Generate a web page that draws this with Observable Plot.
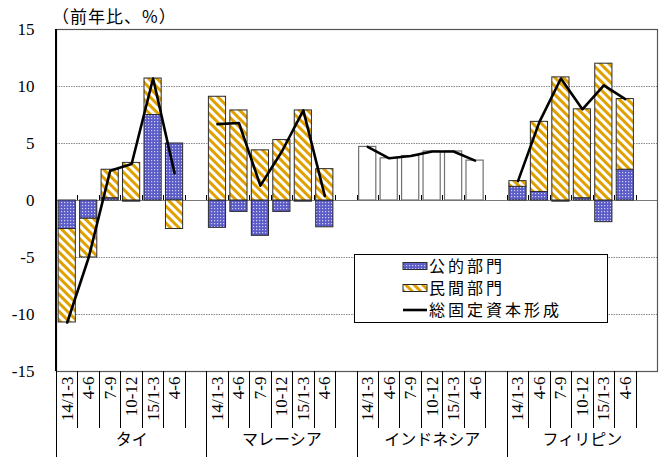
<!DOCTYPE html>
<html><head><meta charset="utf-8">
<script src="https://cdn.jsdelivr.net/npm/d3@7"></script>
<script src="https://cdn.jsdelivr.net/npm/@observablehq/plot@0.6"></script>
<style>
body{margin:0;background:#fff}
#chart{position:relative;width:672px;height:457px}
</style>
</head><body><div id="chart"></div>
<script>
const countries = ["タイ", "マレーシア", "インドネシア", "フィリピン"];
const quarters = ["14/1-3", "4-6", "7-9", "10-12", "15/1-3", "4-6"];
const parts = ["公的部門", "民間部門"];
const totalLabel = "総固定資本形成";
const yTicks = [-15, -10, -5, 0, 5, 10, 15];

// values, % y/y (null = breakdown not shown)
const thaiPublic = [-2.5, -1.6, 0.2, -0.1, 7.5, 5.0];
const thaiPrivate = [-8.2, -3.4, 2.5, 3.3, 3.2, -2.5];
const thaiTotal = [-10.7, -5.0, 2.6, 3.2, 10.7, 2.4];

const malaysiaPublic = [-2.4, -1.0, -3.1, -1.0, -0.1, -2.35];
const malaysiaPrivate = [9.1, 7.9, 4.4, 5.3, 7.9, 2.75];
const malaysiaTotal = [6.7, 6.8, 1.3, 4.3, 7.9, 0.4];

const indonesiaPublic = [null, null, null, null, null, null];
const indonesiaPrivate = [null, null, null, null, null, null];
const indonesiaTotal = [4.7, 3.7, 3.9, 4.3, 4.3, 3.5];

const philippinesPublic = [1.2, 0.75, -0.1, 0.2, -1.9, 2.7];
const philippinesPrivate = [0.5, 6.15, 10.8, 7.8, 12.0, 6.2];
const philippinesTotal = [1.7, 6.9, 10.7, 8.0, 10.1, 8.9];

const publicVals = [thaiPublic, malaysiaPublic, indonesiaPublic, philippinesPublic];
const privateVals = [thaiPrivate, malaysiaPrivate, indonesiaPrivate, philippinesPrivate];
const totalVals = [thaiTotal, malaysiaTotal, indonesiaTotal, philippinesTotal];

// slots: 6 quarters + 1 blank per country
const slotKeys = countries.flatMap(c => [...quarters.map((q, i) => `${c}|${i}`), `${c}|_`]);
const groupKeys = countries.map(c => `${c}|3`);

const partRows = [];
const whiteRows = [];
const totalRows = [];
countries.forEach((c, ci) => {
  quarters.forEach((q, i) => {
    const key = `${c}|${i}`;
    const pu = publicVals[ci][i], pr = privateVals[ci][i], t = totalVals[ci][i];
    if (pu == null) {
      whiteRows.push({key, total: t});
    } else {
      partRows.push({key, part: parts[0], value: pu});
      partRows.push({key, part: parts[1], value: pr});
    }
    totalRows.push({key, country: c, total: t});
  });
});

const serif = "Liberation Serif, Times New Roman, serif";
const jp = "Noto Sans CJK JP, sans-serif";

const plot = Plot.plot({
  width: 672, height: 457,
  marginLeft: 56, marginRight: 15, marginTop: 29, marginBottom: 86,
  style: {background: "white", color: "black", overflow: "visible"},
  x: {type: "band", domain: slotKeys, paddingInner: 0.2, paddingOuter: 0.1, round: false, axis: null},
  y: {domain: [-15, 15], axis: null},
  color: {domain: parts, range: ["url(#pubPat)", "url(#privPat)"]},
  marks: [
    Plot.ruleY([-10, -5, 5, 10], {stroke: "#8a8a8a", strokeWidth: 1, strokeDasharray: "1.5,1"}),
    Plot.ruleY([0], {stroke: "#7a7a7a", strokeWidth: 1.2}),
    Plot.barY(partRows, {x: "key", y: "value", z: "part", fill: "part", stroke: "#2a2a2a", strokeWidth: 1}),
    Plot.barY(whiteRows, {x: "key", y: "total", fill: "white", stroke: "#707070", strokeWidth: 1.2}),
    Plot.line(totalRows, {x: "key", y: "total", z: "country", stroke: "black", strokeWidth: 2.6}),
    Plot.frame({stroke: "#555", strokeWidth: 1.2}),
    Plot.axisY({ticks: yTicks, tickSize: 0, tickPadding: 22, tickFormat: d => `${d}`, label: null,
      fontSize: 17, fontFamily: serif, ariaLabel: "yticks"}),
    Plot.axisX({tickRotate: -90, tickSize: 0, tickPadding: 5, label: null, fontSize: 17, fontFamily: serif,
      ariaLabel: "xticks",
      tickFormat: k => { const i = k.split("|")[1]; return i === "_" ? "" : quarters[+i]; }}),
    Plot.axisX({ticks: groupKeys, tickSize: 0, tickPadding: 62, label: null, fontSize: 16, fontFamily: jp,
      ariaLabel: "groups", tickFormat: k => k.split("|")[0]})
  ]
});

const svg = d3.select(plot);
svg.selectAll("[aria-label='yticks'] text, [aria-label='xticks'] text")
  .attr("font-family", serif).attr("font-size", 17);
svg.selectAll("[aria-label='groups'] text").attr("font-family", jp).attr("font-size", 16);

const defs = svg.insert("defs", ":first-child");
const pub = defs.append("pattern").attr("id", "pubPat").attr("patternUnits", "userSpaceOnUse").attr("width", 3).attr("height", 3);
pub.append("rect").attr("width", 3).attr("height", 3).attr("fill", "#5c5cc8");
pub.append("rect").attr("x", 1).attr("y", 1).attr("width", 1.2).attr("height", 1.2).attr("fill", "#d0d0f4");
const priv = defs.append("pattern").attr("id", "privPat").attr("patternUnits", "userSpaceOnUse")
  .attr("width", 6).attr("height", 6).attr("patternTransform", "rotate(-45)");
priv.append("rect").attr("width", 6).attr("height", 6).attr("fill", "white");
priv.append("rect").attr("width", 3).attr("height", 6).attr("fill", "#e0a000");

const xs = plot.scale("x"), ys = plot.scale("y");
const r0 = Math.min(...xs.range);
const bx = i => r0 + i * xs.step;
const yBottom = ys.apply(-15), y0 = ys.apply(0), yTop = ys.apply(15);
const g = svg.append("g").attr("stroke", "black").attr("stroke-width", 1);
for (let i = 0; i < slotKeys.length; i++) {
  const x = Math.round(bx(i)) + 0.5;
  const y2 = (i % 7 === 0) ? 457 : yBottom + 57;
  g.append("line").attr("x1", x).attr("x2", x).attr("y1", yBottom).attr("y2", y2);
  if (i > 0) g.append("line").attr("x1", x).attr("x2", x).attr("y1", y0 - 5).attr("y2", y0);
}
// left axis line
const xl = bx(0);
svg.append("line").attr("x1", xl).attr("x2", xl).attr("y1", yTop).attr("y2", yBottom)
  .attr("stroke", "black").attr("stroke-width", 2);

// unit label
svg.append("text").attr("x", 52).attr("y", 17).attr("dy", "0.36em").attr("text-anchor", "start")
  .attr("font-family", jp).attr("font-size", 17).attr("letter-spacing", "1px").text("（前年比、%）");

// legend
const lg = svg.append("g");
lg.append("rect").attr("x", 354.5).attr("y", 254.5).attr("width", 253).attr("height", 68).attr("fill", "white").attr("stroke", "black");
const items = [
  {label: parts[0], kind: "pub"},
  {label: parts[1], kind: "priv"},
  {label: totalLabel, kind: "line"}
];
items.forEach((it, k) => {
  const cy = 266 + k * 22;
  if (it.kind === "line") {
    lg.append("line").attr("x1", 403).attr("x2", 427).attr("y1", cy).attr("y2", cy).attr("stroke", "black").attr("stroke-width", 2.6);
  } else {
    lg.append("rect").attr("x", 403).attr("y", cy - 3.5).attr("width", 24).attr("height", 7)
      .attr("fill", it.kind === "pub" ? "url(#pubPat)" : "url(#privPat)").attr("stroke", "#2a2a2a");
  }
  lg.append("text").attr("x", 429).attr("y", cy).attr("dy", "0.36em").attr("text-anchor", "start")
    .attr("font-family", jp).attr("font-size", 16).attr("letter-spacing", "3px").text(it.label);
});

document.getElementById("chart").appendChild(plot);
</script>
</body></html>
